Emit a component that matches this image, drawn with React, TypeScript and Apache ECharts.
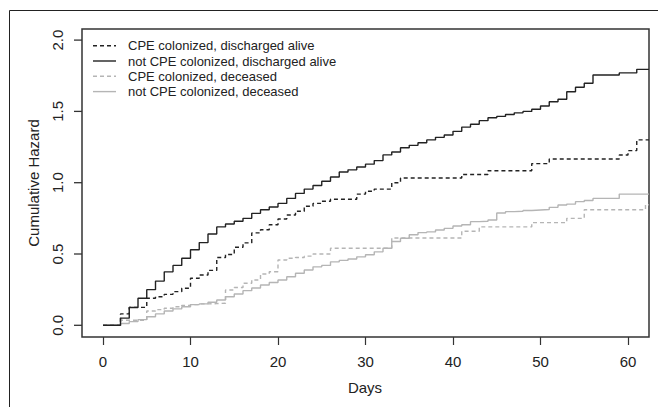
import React, { useEffect, useRef } from "react";
import * as echarts from "echarts";

const days = Array.from({ length: 63 }, (_, i) => i);

const cpeAlive = [
  0, 0, 0.08, 0.126, 0.126, 0.19, 0.2, 0.217, 0.236, 0.26,
  0.33, 0.353, 0.385, 0.475, 0.497, 0.547, 0.578, 0.648, 0.67, 0.705,
  0.745, 0.773, 0.8, 0.835, 0.855, 0.87, 0.884, 0.884, 0.884, 0.92,
  0.94, 0.955, 0.955, 1.0, 1.033, 1.033, 1.033, 1.033, 1.033, 1.033,
  1.033, 1.058, 1.058, 1.058, 1.084, 1.084, 1.084, 1.084, 1.084, 1.134,
  1.134, 1.166, 1.166, 1.166, 1.166, 1.166, 1.166, 1.166, 1.166, 1.194,
  1.225, 1.3, 1.3,
];

const notCpeAlive = [
  0, 0, 0.05, 0.125, 0.19, 0.25, 0.31, 0.375, 0.42, 0.47,
  0.53, 0.58, 0.64, 0.69, 0.71, 0.73, 0.75, 0.785, 0.81, 0.83,
  0.855, 0.89, 0.925, 0.955, 0.98, 1.01, 1.04, 1.075, 1.09, 1.11,
  1.13, 1.155, 1.195, 1.215, 1.245, 1.262, 1.28, 1.3, 1.318, 1.335,
  1.36, 1.39, 1.41, 1.435, 1.455, 1.465, 1.478, 1.49, 1.5, 1.515,
  1.538, 1.568, 1.585, 1.638, 1.669, 1.697, 1.755, 1.755, 1.755, 1.77,
  1.77, 1.795, 1.795,
];

const cpeDeceased = [
  0, 0, 0.035, 0.035, 0.035, 0.1, 0.11, 0.12, 0.13, 0.14,
  0.145, 0.15, 0.152, 0.155, 0.248, 0.265, 0.295, 0.318, 0.36, 0.376,
  0.458, 0.47, 0.475, 0.485, 0.5, 0.5, 0.54, 0.54, 0.54, 0.54,
  0.54, 0.54, 0.54, 0.612, 0.612, 0.612, 0.612, 0.612, 0.612, 0.612,
  0.612, 0.66, 0.66, 0.69, 0.69, 0.69, 0.69, 0.69, 0.69, 0.72,
  0.72, 0.72, 0.72, 0.75, 0.75, 0.81, 0.81, 0.81, 0.81, 0.81,
  0.81, 0.81, 0.845,
];

const notCpeDeceased = [
  0, 0, 0.013, 0.026, 0.04, 0.06, 0.08, 0.1, 0.115, 0.13,
  0.145, 0.15, 0.162, 0.177, 0.2, 0.22, 0.243, 0.262, 0.283, 0.3,
  0.318, 0.34, 0.365, 0.388, 0.41, 0.42, 0.445, 0.455, 0.465, 0.48,
  0.495, 0.515, 0.54, 0.588, 0.61, 0.635, 0.65, 0.655, 0.668, 0.68,
  0.696, 0.705, 0.727, 0.73, 0.738, 0.788, 0.797, 0.8, 0.805, 0.809,
  0.812, 0.827, 0.844, 0.85, 0.867, 0.875, 0.89, 0.89, 0.89, 0.92,
  0.92, 0.92, 0.92,
];

const xTicks = [0, 10, 20, 30, 40, 50, 60];
const yTicks = [0, 0.5, 1.0, 1.5, 2.0];
const seriesNames = [
  "CPE colonized, discharged alive",
  "not CPE colonized, discharged alive",
  "CPE colonized, deceased",
  "not CPE colonized, deceased",
];

const X_MIN = -2.4;
const X_MAX = 62.4;
const Y_MIN = 0;
const Y_MAX = 2;
const Y_STEP = 0.5;

const GRID_LEFT = 82;
const GRID_TOP = 40.1;
const GRID_W = 567;
const GRID_H = 285.2;

const DARK = "#222222";
const GREY = "#b5b5b5";
const FONT = "Liberation Sans, Arial, Helvetica, sans-serif";
const TICK_LEN = 8;

const seriesStyles = [
  { color: DARK, dash: [4, 3] as any },
  { color: DARK, dash: "solid" as any },
  { color: GREY, dash: [4, 3] as any },
  { color: GREY, dash: "solid" as any },
];

function toPairs(vals: number[]) {
  const pts = days.map((d, i) => [d, vals[i]]);
  pts.push([X_MAX, vals[vals.length - 1]]);
  return pts;
}

export default function App() {
  const ref = useRef<HTMLDivElement>(null);
  useEffect(() => {
    if (!ref.current) return;
    const chart = echarts.init(ref.current, undefined, { renderer: "svg" });
    const allSeries = [cpeAlive, notCpeAlive, cpeDeceased, notCpeDeceased];
    const graphics: any[] = [
      {
        type: "rect",
        shape: { x: 9.5, y: 10.5, width: 700, height: 500 },
        style: { fill: "none", stroke: "#222", lineWidth: 1 },
        silent: true,
      },
      {
        type: "rect",
        shape: { x: 82, y: 29, width: 567, height: 308 },
        style: { fill: "none", stroke: "#333", lineWidth: 1.5 },
        silent: true,
      },
      {
        type: "text",
        x: 33,
        y: 183,
        rotation: Math.PI / 2,
        style: {
          text: "Cumulative Hazard",
          fill: "#222",
          font: `15px ${FONT}`,
          textAlign: "center",
          textVerticalAlign: "middle",
        },
      },
      {
        type: "text",
        x: 365,
        y: 387,
        style: {
          text: "Days",
          fill: "#222",
          font: `15px ${FONT}`,
          textAlign: "center",
          textVerticalAlign: "middle",
        },
      },
    ];
    // y-axis tick marks from the same linear scale as the y axis
    yTicks.forEach((v) => {
      const py = GRID_TOP + GRID_H * (1 - (v - Y_MIN) / (Y_MAX - Y_MIN));
      graphics.push({
        type: "line",
        shape: { x1: GRID_LEFT - TICK_LEN, y1: py, x2: GRID_LEFT, y2: py },
        style: { stroke: "#333", lineWidth: 1.3 },
        silent: true,
        z: 100,
      });
    });
    seriesNames.forEach((name, i) => {
      const y = 45.7 + i * 15.3;
      graphics.push({
        type: "line",
        shape: { x1: 93, y1: y, x2: 116, y2: y },
        style: {
          stroke: seriesStyles[i].color,
          lineWidth: 1.4,
          lineDash: seriesStyles[i].dash === "solid" ? null : [4, 3],
        },
      });
      graphics.push({
        type: "text",
        x: 128,
        y: y,
        style: {
          text: name,
          fill: "#222",
          font: `13px ${FONT}`,
          textAlign: "left",
          textVerticalAlign: "middle",
        },
      });
    });
    chart.setOption({
      animation: false,
      backgroundColor: "#ffffff",
      grid: {
        left: GRID_LEFT,
        top: GRID_TOP,
        width: GRID_W,
        height: GRID_H,
        show: false,
        containLabel: false,
      },
      xAxis: {
        type: "value",
        position: "bottom",
        min: X_MIN,
        max: X_MAX,
        offset: 11.7,
        axisLine: { show: false, onZero: false },
        splitLine: { show: false },
        axisTick: {
          show: true,
          inside: false,
          length: TICK_LEN,
          customValues: xTicks,
          lineStyle: { color: "#333", width: 1.2 },
        },
        axisLabel: {
          customValues: xTicks,
          margin: 17,
          fontSize: 15,
          color: "#222",
          fontFamily: FONT,
        },
      },
      yAxis: {
        type: "value",
        position: "left",
        min: Y_MIN,
        max: Y_MAX,
        interval: Y_STEP,
        splitLine: { show: false },
        axisLine: { show: false, onZero: false },
        axisTick: { show: false },
        axisLabel: {
          rotate: 90,
          margin: 17,
          fontSize: 15,
          color: "#222",
          fontFamily: FONT,
          formatter: (v: number) => v.toFixed(1),
        },
      },
      graphic: graphics,
      series: allSeries.map((vals, i) => ({
        name: seriesNames[i],
        type: "line",
        step: "end",
        symbol: "none",
        data: toPairs(vals),
        z: i === 1 ? 5 : 3,
        lineStyle: {
          color: seriesStyles[i].color,
          width: 1.4,
          type: seriesStyles[i].dash,
        },
      })),
    });
    return () => chart.dispose();
  }, []);
  return (
    <div
      ref={ref}
      style={{ position: "fixed", left: 0, top: 0, width: 658, height: 407 }}
    />
  );
}
